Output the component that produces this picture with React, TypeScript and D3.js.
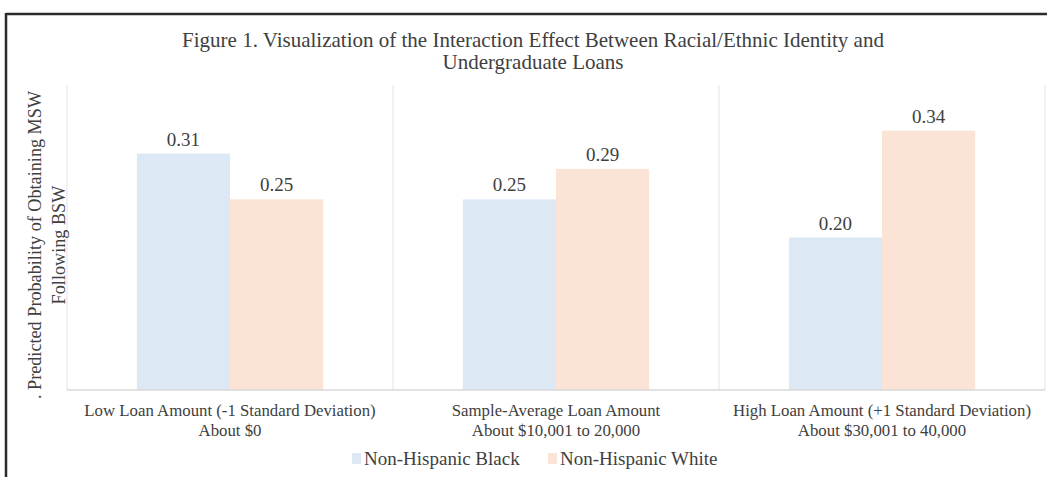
import React, { useEffect, useRef } from "react";
import * as d3 from "d3";

const categories = [
  ["Low Loan Amount (-1 Standard Deviation)", "About $0"],
  ["Sample-Average Loan Amount", "About $10,001 to 20,000"],
  ["High Loan Amount (+1 Standard Deviation)", "About $30,001 to 40,000"],
];
const seriesNames = ["Non-Hispanic Black", "Non-Hispanic White"];
const blackValues = [0.31, 0.25, 0.2];
const whiteValues = [0.25, 0.29, 0.34];
const colors = ["#dde8f5", "#fbe3d5"];

const W = 1047;
const H = 477;

const App = () => {
  const svgRef = useRef<SVGSVGElement>(null);

  useEffect(() => {
    const svg = d3.select(svgRef.current);
    svg.selectAll("*").remove();

    const left = 67, right = 1045, top = 85, bottom = 390;
    const font = "Liberation Serif, Times New Roman, serif";
    const textColor = "#404040";

    // frame (only top and left visible)
    svg.append("line").attr("x1", 6).attr("x2", W).attr("y1", 14).attr("y2", 14)
      .attr("stroke", "#2b2b2b").attr("stroke-width", 2.5);
    svg.append("line").attr("x1", 6).attr("x2", 6).attr("y1", 13).attr("y2", H)
      .attr("stroke", "#2b2b2b").attr("stroke-width", 2.5);

    const title = svg.append("text").attr("text-anchor", "middle")
      .attr("font-family", font).attr("font-size", 21).attr("fill", textColor);
    title.append("tspan").attr("x", 533).attr("y", 47)
      .text("Figure 1. Visualization of the Interaction Effect Between Racial/Ethnic Identity and");
    title.append("tspan").attr("x", 533).attr("y", 69).text("Undergraduate Loans");

    const x0 = d3.scaleBand<number>().domain(d3.range(categories.length)).range([left, right]);
    const x1 = d3.scaleBand<number>().domain([0, 1]).range([0, x0.bandwidth()])
      .paddingOuter(0.75);
    const y = d3.scaleLinear().domain([0, 0.4]).range([bottom, top]);

    // category separators
    d3.range(categories.length + 1).forEach((i) => {
      const xx = i < categories.length ? x0(i)! : right;
      svg.append("line").attr("x1", xx).attr("x2", xx).attr("y1", top).attr("y2", bottom)
        .attr("stroke", "#e3e3e3").attr("stroke-width", 1);
    });

    const series = [blackValues, whiteValues];
    series.forEach((vals, s) => {
      const g = svg.append("g");
      g.selectAll("rect").data(vals).join("rect")
        .attr("x", (_, i) => x0(i)! + x1(s)!)
        .attr("y", (d) => y(d))
        .attr("width", x1.bandwidth())
        .attr("height", (d) => bottom - y(d))
        .attr("fill", colors[s]);
      g.selectAll("text").data(vals).join("text")
        .attr("x", (_, i) => x0(i)! + x1(s)! + x1.bandwidth() / 2)
        .attr("y", (d) => y(d) - 8)
        .attr("text-anchor", "middle")
        .attr("font-family", font).attr("font-size", 19).attr("fill", textColor)
        .text((d) => d.toFixed(2));
    });

    // bottom axis line
    svg.append("line").attr("x1", left).attr("x2", right).attr("y1", bottom).attr("y2", bottom)
      .attr("stroke", "#d9d9d9").attr("stroke-width", 1.5);

    // category labels
    categories.forEach((lines, i) => {
      const t = svg.append("text").attr("text-anchor", "middle")
        .attr("font-family", font).attr("font-size", 16.8).attr("fill", textColor);
      lines.forEach((l, k) => {
        t.append("tspan").attr("x", x0(i)! + x0.bandwidth() / 2).attr("y", 416 + k * 20).text(l);
      });
    });

    // y axis title
    const yt = svg.append("text").attr("text-anchor", "middle")
      .attr("transform", `translate(0, 245) rotate(-90)`)
      .attr("font-family", font).attr("font-size", 18.2).attr("fill", textColor);
    yt.append("tspan").attr("x", 0).attr("y", 41).text(". Predicted Probability of Obtaining MSW");
    yt.append("tspan").attr("x", 0).attr("y", 65).text("Following BSW");

    // legend
    const legendX = [352, 548];
    seriesNames.forEach((name, s) => {
      svg.append("rect").attr("x", legendX[s]).attr("y", 453).attr("width", 9).attr("height", 11)
        .attr("fill", colors[s]);
      svg.append("text").attr("x", legendX[s] + 12).attr("y", 465)
        .attr("font-family", font).attr("font-size", 19).attr("fill", textColor).text(name);
    });
  }, []);

  return (
    <div>
      <style>{`body{margin:0;background:#fff;}`}</style>
      <svg ref={svgRef} width={W} height={H} style={{ display: "block" }} />
    </div>
  );
};

export default App;
